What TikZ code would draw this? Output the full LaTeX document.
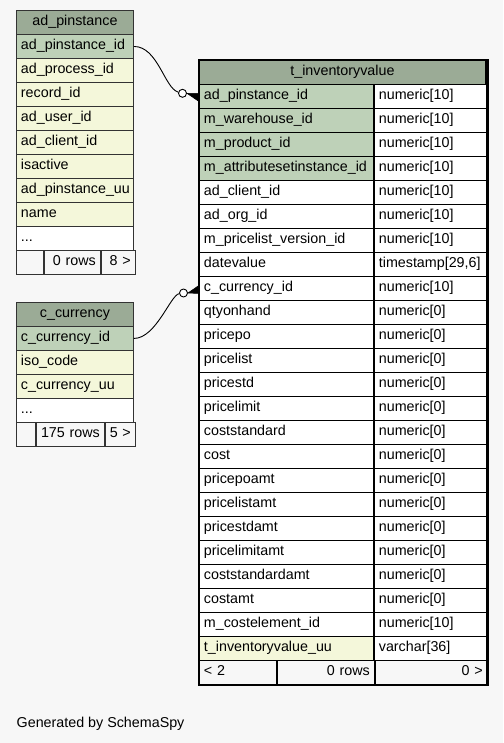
\documentclass[tikz,border=0pt]{standalone}
\usepackage{fontspec}
\setmainfont{Liberation Sans}
\usetikzlibrary{positioning}
\hyphenpenalty=10000

\definecolor{headgreen}{HTML}{9BAB96}
\definecolor{keygreen}{HTML}{BED1B8}
\definecolor{idxyellow}{HTML}{F4F7DA}
\definecolor{footgray}{HTML}{F7F7F7}
\definecolor{bggray}{HTML}{F7F7F7}
\definecolor{rulegray}{HTML}{333333}

\newcommand\rowfont{\fontsize{14.3}{17}\selectfont}
\newcommand\moredots{...}

\tikzset{
  cell/.style={rectangle, draw=rulegray, line width=0.9pt, anchor=north west,
    inner xsep=4.5pt, inner ysep=0pt, minimum height=24pt,
    text height=10.5pt, text depth=3.5pt, font=\rowfont},
  leftcol/.style={cell, text width=108pt, align=left},
  headcell/.style={cell, fill=headgreen, text width=#1, align=center},
  namecol/.style={cell, draw=black, text width=165pt, align=left},
  typecol/.style={cell, draw=black, text width=103pt, align=left},
  footcell/.style={cell, fill=footgray, text width=#1, align=right},
  odot/.style={circle, draw, fill=white, line width=0.9pt, minimum size=8pt, inner sep=0pt},
  link/.style={line width=0.9pt},
  crow/.style={fill=black, line width=0.6pt, line join=round}
}

\begin{document}
\begin{tikzpicture}[
    x=1pt,
    y=-1pt
]

% Page
\fill[bggray] (0,0) rectangle (503,743);
\useasboundingbox (0,0) rectangle (503,743);

% ad_pinstance
\node[headcell=108pt] (pinst-h) at (16,10) {ad\_pinstance};
\foreach \name/\c [count=\i] in {
    ad\_pinstance\_id/keygreen,
    ad\_process\_id/idxyellow,
    record\_id/idxyellow,
    ad\_user\_id/idxyellow,
    ad\_client\_id/idxyellow,
    isactive/idxyellow,
    ad\_pinstance\_uu/idxyellow,
    name/idxyellow,
    \moredots/white} {
    \node[leftcol, fill=\c] (pinst-\i) at (16,{10+24*\i}) {\name};
}
\node[footcell=17.7pt] (pinst-f1) at (16,250) {};
\node[footcell=47.3pt] (pinst-f2) at (pinst-f1.north east) {0~rows};
\node[footcell=25pt] (pinst-f3) at (pinst-f2.north east) {8~>};

% c_currency
\node[headcell=108pt] (cur-h) at (16,302) {c\_currency};
\foreach \name/\c [count=\i] in {
    c\_currency\_id/keygreen,
    iso\_code/idxyellow,
    c\_currency\_uu/idxyellow,
    \moredots/white} {
    \node[leftcol, fill=\c] (cur-\i) at (16,{302+24*\i}) {\name};
}
\node[footcell=9.7pt] (cur-f1) at (16,422) {};
\node[footcell=59.3pt] (cur-f2) at (cur-f1.north east) {175~rows};
\node[footcell=21pt] (cur-f3) at (cur-f2.north east) {5~>};

% t_inventoryvalue
\node[headcell=277pt, draw=black] (inv-h) at (199,60) {t\_inventoryvalue};
\foreach \name/\type/\c [count=\i] in {
    ad\_pinstance\_id/numeric[10]/keygreen,
    m\_warehouse\_id/numeric[10]/keygreen,
    m\_product\_id/numeric[10]/keygreen,
    m\_attributesetinstance\_id/numeric[10]/keygreen,
    ad\_client\_id/numeric[10]/white,
    ad\_org\_id/numeric[10]/white,
    m\_pricelist\_version\_id/numeric[10]/white,
    datevalue/{timestamp[29,6]}/white,
    c\_currency\_id/numeric[10]/white,
    qtyonhand/numeric[0]/white,
    pricepo/numeric[0]/white,
    pricelist/numeric[0]/white,
    pricestd/numeric[0]/white,
    pricelimit/numeric[0]/white,
    coststandard/numeric[0]/white,
    cost/numeric[0]/white,
    pricepoamt/numeric[0]/white,
    pricelistamt/numeric[0]/white,
    pricestdamt/numeric[0]/white,
    pricelimitamt/numeric[0]/white,
    coststandardamt/numeric[0]/white,
    costamt/numeric[0]/white,
    m\_costelement\_id/numeric[10]/white,
    t\_inventoryvalue\_uu/varchar[36]/idxyellow} {
    \node[namecol, fill=\c] (inv-n\i) at (199,{60+24*\i}) {\name};
    \node[typecol, fill=white] (inv-t\i) at (inv-n\i.north east) {\type};
}
\node[footcell=68pt, draw=black, align=left] (inv-f1) at (199,660) {<~2};
\node[footcell=88pt, draw=black] (inv-f2) at (inv-f1.north east) {0~rows};
\node[footcell=103pt, draw=black] (inv-f3) at (inv-f2.north east) {0~>};
\draw[line width=2.6pt] (inv-h.north west) rectangle (inv-f3.south east);

% Relations
\node[odot] (pin-o) at (182.5,93.3) {};
\draw[link] (pinst-1.east) .. controls +(24,0) and +(-18,-5) .. (pin-o);
\draw[crow] (pin-o.east) -- ([yshift=3pt]inv-n1.west) -- ([yshift=-5pt]inv-n1.west) -- cycle;

\node[odot] (cur-o) at (183.5,293) {};
\draw[link] (cur-1.east) .. controls +(22,0) and +(-13,2) .. (cur-o);
\draw[crow] (cur-o.east) -- ([yshift=3pt]inv-n9.west) -- ([yshift=-5pt]inv-n9.west) -- cycle;

% Footer
\node[anchor=base west, inner sep=0pt, font=\rowfont] (gen) at (16.5,727) {Generated by SchemaSpy};

\end{tikzpicture}
\end{document}
